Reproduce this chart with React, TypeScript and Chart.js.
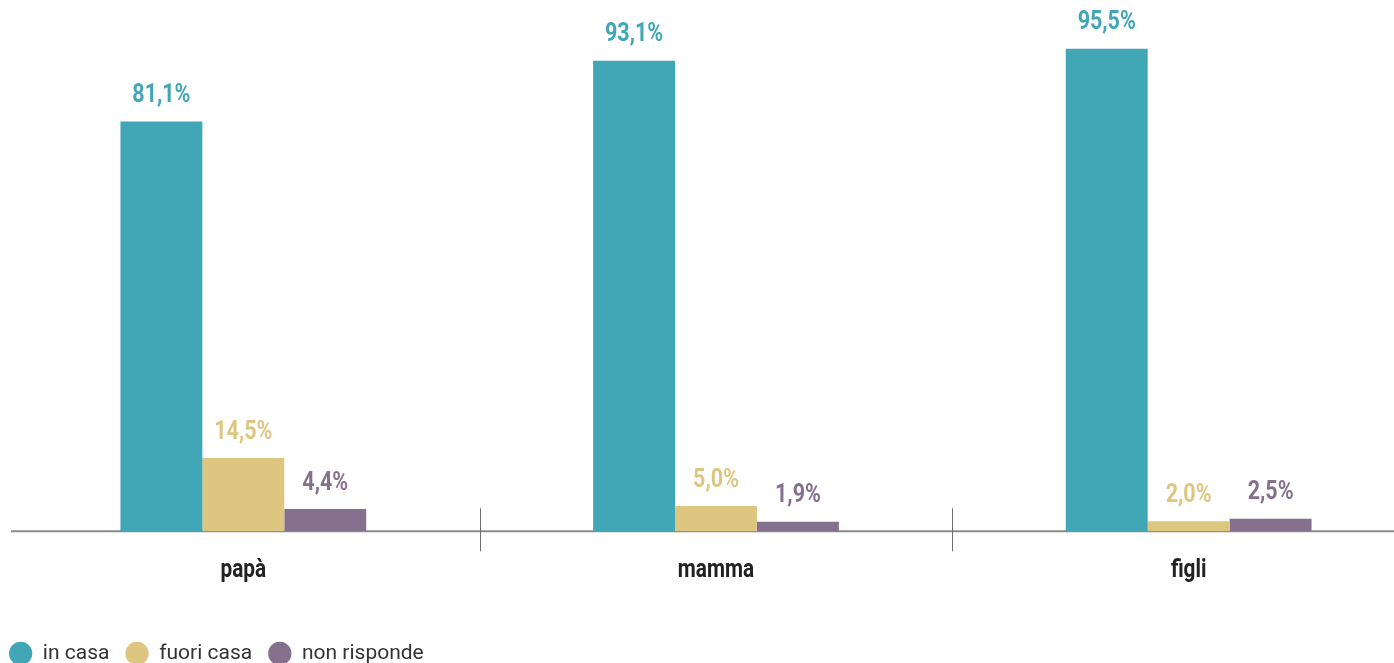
import React, { useEffect, useRef } from "react";
import { Chart, registerables } from "chart.js";

Chart.register(...registerables);

const categories = ["papà", "mamma", "figli"];
const seriesNames = ["in casa", "fuori casa", "non risponde"];
const inCasa = [81.1, 93.1, 95.5];
const fuoriCasa = [14.5, 5.0, 2.0];
const nonRisponde = [4.4, 1.9, 2.5];
const seriesColors = ["#41A6B5", "#DDC680", "#85718E"];
const yMax = 100;

const fmt = (v: number) => v.toFixed(1).replace(".", ",") + "%";

const decorPlugin = {
  id: "decor",
  beforeDatasetsDraw(chart: any) {
    const { ctx, chartArea } = chart;
    const x = chart.scales.x;
    const y = chart.scales.y;
    const y0 = y.getPixelForValue(0);
    ctx.save();
    ctx.strokeStyle = "#8a8a8a";
    ctx.lineWidth = 2;
    ctx.beginPath();
    ctx.moveTo(chartArea.left + 4, y0);
    ctx.lineTo(chartArea.right, y0);
    ctx.stroke();
    ctx.strokeStyle = "#6e6e6e";
    ctx.lineWidth = 1;
    for (let i = 0; i < categories.length - 1; i++) {
      const px = Math.round((x.getPixelForValue(i) + x.getPixelForValue(i + 1)) / 2) + 0.5;
      ctx.beginPath();
      ctx.moveTo(px, y0 - 23);
      ctx.lineTo(px, y0 + 20);
      ctx.stroke();
    }
    // category labels (condensed bold)
    categories.forEach((c, i) => {
      ctx.save();
      ctx.translate(x.getPixelForValue(i), y0 + 46);
      ctx.scale(0.8, 1);
      ctx.font = "bold 26px Roboto";
      ctx.textAlign = "center";
      ctx.textBaseline = "alphabetic";
      ctx.fillStyle = "#222222";
      ctx.fillText(c, 0, 0);
      ctx.restore();
    });
    ctx.restore();
  },
  afterDatasetsDraw(chart: any) {
    const { ctx } = chart;
    chart.data.datasets.forEach((ds: any, i: number) => {
      const meta = chart.getDatasetMeta(i);
      meta.data.forEach((bar: any, j: number) => {
        const v = ds.data[j];
        ctx.save();
        ctx.translate(bar.x, bar.y - 19.5);
        ctx.scale(0.86, 1);
        ctx.font = "bold 25px Roboto";
        ctx.textAlign = "center";
        ctx.textBaseline = "alphabetic";
        ctx.fillStyle = seriesColors[i];
        ctx.fillText(fmt(v), 0, 0);
        ctx.restore();
      });
    });
  },
};

export default function App() {
  const ref = useRef<HTMLCanvasElement>(null);
  useEffect(() => {
    const values = [inCasa, fuoriCasa, nonRisponde];
    const chart = new Chart(ref.current!, {
      type: "bar",
      data: {
        labels: categories,
        datasets: seriesNames.map((name, i) => ({
          label: name,
          data: values[i],
          backgroundColor: seriesColors[i],
          borderWidth: 0,
          categoryPercentage: 0.52,
          barPercentage: 1,
        })),
      },
      options: {
        animation: false,
        responsive: true,
        maintainAspectRatio: false,
        layout: { padding: { top: 26, left: 0, right: 0, bottom: 0 } },
        plugins: {
          legend: {
            position: "bottom",
            align: "start",
            labels: {
              usePointStyle: true,
              pointStyle: "circle",
              boxHeight: 16.5,
              pointStyleWidth: 23.3,
              padding: 16,
              color: "#333333",
              font: { family: "Roboto", size: 21 },
            },
          },
          tooltip: { enabled: false },
        },
        scales: {
          x: {
            grid: { display: false, drawTicks: false },
            border: { display: false },
            ticks: { display: false },
            afterFit: (s: any) => {
              s.height = 95.7;
            },
          },
          y: {
            display: true,
            min: 0,
            max: yMax,
            grid: { display: false, drawTicks: false },
            border: { display: false },
            ticks: { display: false },
            afterFit: (s: any) => {
              s.width = 14;
            },
          },
        },
      } as any,
      plugins: [decorPlugin],
    });
    return () => chart.destroy();
  }, []);
  return (
    <div
      style={{
        position: "fixed",
        left: 0,
        top: 0,
        width: 1394,
        height: 663,
        overflow: "hidden",
        background: "#ffffff",
      }}
    >
      <div style={{ position: "absolute", left: -7, top: 0, width: 1432, height: 674 }}>
        <canvas ref={ref} />
      </div>
    </div>
  );
}
